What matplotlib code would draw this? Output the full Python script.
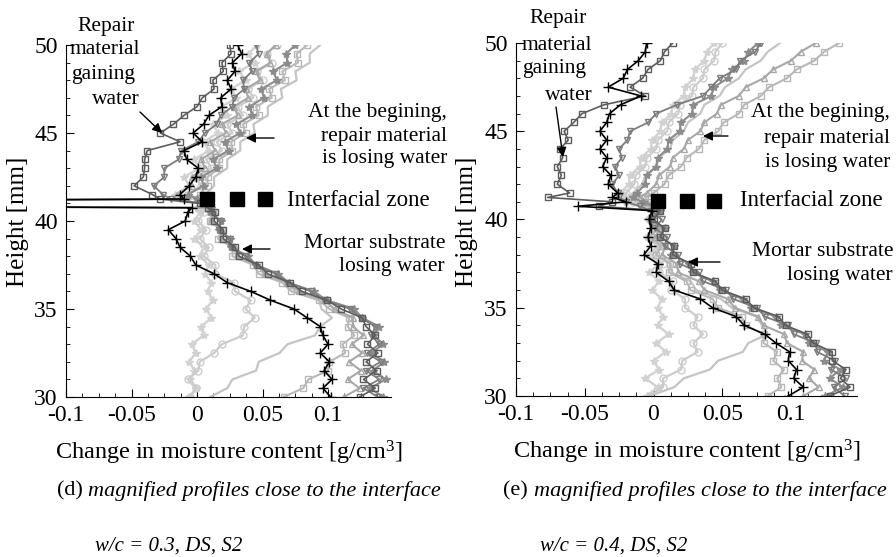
import matplotlib
matplotlib.use("Agg")
import matplotlib.pyplot as plt
from matplotlib.ticker import MultipleLocator, FixedLocator

plt.rcParams['font.family'] = ['Liberation Serif', 'DejaVu Serif']
plt.rcParams['mathtext.fontset'] = 'custom'
plt.rcParams['mathtext.rm'] = 'Liberation Serif'
plt.rcParams['mathtext.it'] = 'Liberation Serif:italic'

# ---------------- data ----------------
height = [30.0, 30.5, 31.0, 31.5, 32.0, 32.5, 33.0, 33.5, 34.0, 34.5, 35.0,
          35.5, 36.0, 36.5, 37.0, 37.5, 38.0, 38.5, 39.0, 39.5, 40.0, 40.5,
          40.75, 41.0, 41.25,
          41.5, 42.0, 42.5, 43.0, 43.5, 44.0, 44.5, 45.0, 45.5, 46.0, 46.5,
          47.0, 47.5, 48.0, 48.5, 49.0, 49.5, 50.0]

# (d) w/c = 0.3
d_black = [0.102, 0.096, 0.103, 0.097, 0.101, 0.094, 0.100, 0.096, 0.094, 0.084, 0.074,
           0.056, 0.041, 0.023, 0.013, -0.001, -0.005, -0.013, -0.016, -0.022, -0.009, -0.007,
           -0.004, -0.60, -0.010,
           -0.013, -0.006, -0.001, 0.001, -0.008, -0.010, 0.004, -0.003, 0.005, 0.009, 0.019,
           0.018, 0.026, 0.023, 0.029, 0.027, 0.034, 0.031]
d_sq_dark = [0.124, 0.136, 0.127, 0.137, 0.129, 0.138, 0.130, 0.136, 0.129, 0.126, 0.110,
             0.099, 0.080, 0.071, 0.054, 0.047, 0.032, 0.029, 0.020, 0.020, 0.013, 0.014,
             0.008, 0.002, -0.028,
             -0.034, -0.048, -0.041, -0.040, -0.040, -0.038, -0.013, -0.028, -0.018, -0.010, 0.000,
             0.004, 0.013, 0.012, 0.020, 0.019, 0.026, 0.025]
d_tri_down = [0.138, 0.127, 0.139, 0.129, 0.140, 0.130, 0.139, 0.133, 0.136, 0.125, 0.117,
              0.097, 0.087, 0.069, 0.060, 0.044, 0.037, 0.026, 0.025, 0.017, 0.018, 0.011,
              0.010, 0.004, -0.020,
              -0.026, -0.033, -0.025, -0.025, -0.014, -0.012, 0.001, 0.006, 0.015, 0.018, 0.027,
              0.028, 0.036, 0.035, 0.042, 0.040, 0.047, 0.045]
d_star_mid = [0.142, 0.132, 0.144, 0.134, 0.143, 0.133, 0.142, 0.135, 0.139, 0.126, 0.120,
              0.099, 0.089, 0.070, 0.062, 0.045, 0.039, 0.026, 0.025, 0.017, 0.018, 0.010,
              0.011, 0.006, 0.000,
              -0.007, 0.005, 0.003, 0.015, 0.012, 0.024, 0.021, 0.033, 0.030, 0.042, 0.040,
              0.051, 0.049, 0.061, 0.058, 0.069, 0.068, 0.075]
d_tri_up = [0.112, 0.124, 0.115, 0.125, 0.116, 0.126, 0.118, 0.127, 0.119, 0.119, 0.105,
            0.097, 0.078, 0.069, 0.052, 0.046, 0.031, 0.029, 0.018, 0.019, 0.011, 0.013,
            0.009, -0.60, -0.008,
            -0.015, -0.004, -0.004, 0.006, 0.003, 0.014, 0.010, 0.022, 0.019, 0.031, 0.028,
            0.039, 0.037, 0.048, 0.045, 0.056, 0.053, 0.060]
d_sq_light = [0.066, 0.081, 0.085, 0.100, 0.101, 0.113, 0.111, 0.120, 0.115, 0.116, 0.101,
              0.093, 0.072, 0.065, 0.047, 0.043, 0.027, 0.027, 0.016, 0.019, 0.010, 0.012,
              0.008, 0.004, 0.000,
              0.002, 0.008, 0.008, 0.017, 0.017, 0.027, 0.026, 0.037, 0.035, 0.047, 0.045,
              0.057, 0.055, 0.067, 0.065, 0.077, 0.076, 0.084]
d_line_light = [0.010, 0.023, 0.027, 0.045, 0.047, 0.063, 0.069, 0.090, 0.094, 0.103, 0.095,
                0.093, 0.075, 0.069, 0.051, 0.046, 0.030, 0.028, 0.017, 0.019, 0.009, 0.012,
                0.008, 0.005, 0.003,
                0.006, 0.013, 0.013, 0.023, 0.023, 0.033, 0.033, 0.044, 0.043, 0.054, 0.054,
                0.065, 0.064, 0.076, 0.075, 0.086, 0.086, 0.094]
d_circle = [-0.005, -0.001, -0.007, 0.001, 0.002, 0.013, 0.019, 0.035, 0.036, 0.044, 0.037,
            0.041, 0.029, 0.028, 0.014, 0.014, 0.005, 0.009, 0.002, 0.007, 0.001, 0.005,
            0.002, -0.60, -0.004,
            -0.008, 0.003, -0.001, 0.011, 0.007, 0.019, 0.015, 0.027, 0.023, 0.035, 0.031,
            0.043, 0.039, 0.050, 0.046, 0.057, 0.053, 0.061]
d_star_light = [-0.006, -0.001, -0.005, -0.002, -0.006, -0.001, -0.004, 0.005, 0.003, 0.011, 0.007,
                0.012, 0.008, 0.011, 0.006, 0.009, 0.002, 0.005, -0.002, 0.003, -0.002, 0.002,
                0.000, -0.60, -0.012,
                -0.017, -0.006, -0.010, 0.002, -0.002, 0.009, 0.005, 0.016, 0.012, 0.023, 0.019,
                0.030, 0.026, 0.037, 0.032, 0.044, 0.039, 0.046]

# (e) w/c = 0.4
e_black = [0.098, 0.109, 0.102, 0.104, 0.098, 0.099, 0.089, 0.081, 0.066, 0.060, 0.043,
           0.034, 0.015, 0.011, 0.002, 0.003, -0.007, -0.002, -0.004, -0.002, -0.003, -0.001,
           -0.055, -0.020, -0.030,
           -0.026, -0.033, -0.031, -0.037, -0.034, -0.039, -0.034, -0.039, -0.034, -0.032, -0.024,
           -0.009, -0.033, -0.022, -0.019, -0.011, -0.006, -0.005]
e_sq_dark = [0.128, 0.143, 0.136, 0.140, 0.130, 0.130, 0.116, 0.112, 0.096, 0.091, 0.073,
             0.067, 0.050, 0.045, 0.029, 0.027, 0.014, 0.015, 0.005, 0.008, 0.000, 0.005,
             -0.040, -0.030, -0.077,
             -0.061, -0.070, -0.067, -0.070, -0.066, -0.068, -0.062, -0.065, -0.058, -0.052, -0.036,
             -0.006, -0.017, -0.008, -0.004, 0.005, 0.008, 0.014]
e_tri_down = [0.139, 0.131, 0.140, 0.129, 0.132, 0.119, 0.118, 0.102, 0.098, 0.081, 0.075,
              0.058, 0.053, 0.036, 0.033, 0.019, 0.018, 0.008, 0.010, 0.001, 0.006, -0.002,
              -0.010, -0.020, -0.025,
              -0.026, -0.030, -0.025, -0.028, -0.023, -0.025, -0.019, -0.017, -0.004, 0.002, 0.017,
              0.036, 0.042, 0.048, 0.060, 0.063, 0.074, 0.078]
e_star_mid = [0.125, 0.138, 0.128, 0.136, 0.124, 0.127, 0.113, 0.110, 0.093, 0.089, 0.071,
              0.065, 0.048, 0.043, 0.028, 0.026, 0.013, 0.015, 0.005, 0.008, -0.001, 0.005,
              0.000, -0.008, -0.015,
              -0.012, -0.006, -0.005, 0.002, 0.003, 0.010, 0.011, 0.019, 0.020, 0.028, 0.029,
              0.042, 0.044, 0.054, 0.057, 0.066, 0.069, 0.076]
e_tri_up = [0.109, 0.120, 0.113, 0.117, 0.108, 0.109, 0.097, 0.095, 0.080, 0.076, 0.059,
            0.054, 0.037, 0.033, 0.018, 0.017, 0.006, 0.009, 0.001, 0.005, -0.001, 0.004,
            0.000, -0.005, -0.010,
            -0.005, 0.002, 0.004, 0.012, 0.014, 0.022, 0.025, 0.034, 0.037, 0.046, 0.049,
            0.062, 0.067, 0.080, 0.087, 0.100, 0.107, 0.118]
e_sq_light = [0.083, 0.093, 0.090, 0.095, 0.087, 0.090, 0.080, 0.080, 0.067, 0.064, 0.047,
              0.043, 0.027, 0.024, 0.011, 0.012, 0.002, 0.006, -0.002, 0.003, -0.002, 0.003,
              0.000, -0.004, -0.006,
              0.000, 0.008, 0.011, 0.020, 0.024, 0.033, 0.037, 0.047, 0.051, 0.062, 0.066,
              0.078, 0.084, 0.097, 0.104, 0.117, 0.124, 0.135]
e_line_light = [-0.003, 0.015, 0.022, 0.041, 0.047, 0.065, 0.069, 0.083, 0.079, 0.075, 0.057,
                0.049, 0.031, 0.027, 0.013, 0.013, 0.002, 0.005, -0.003, 0.002, -0.003, 0.004,
                -0.005, -0.012, -0.018,
                -0.015, -0.008, -0.006, 0.002, 0.004, 0.012, 0.014, 0.022, 0.025, 0.034, 0.037,
                0.048, 0.052, 0.062, 0.067, 0.078, 0.083, 0.092]
e_circle = [-0.003, 0.007, 0.007, 0.020, 0.021, 0.032, 0.029, 0.036, 0.029, 0.032, 0.023,
            0.023, 0.013, 0.014, 0.004, 0.007, -0.001, 0.004, -0.003, 0.002, -0.003, 0.003,
            -0.008, -0.015, -0.020,
            -0.020, -0.014, -0.013, -0.006, -0.005, 0.002, 0.003, 0.010, 0.011, 0.018, 0.019,
            0.028, 0.029, 0.036, 0.037, 0.044, 0.045, 0.050]
e_star_light = [-0.005, 0.003, -0.006, 0.004, 0.000, 0.009, 0.002, 0.011, 0.003, 0.007, 0.003,
                0.006, -0.001, 0.004, -0.003, 0.004, -0.004, 0.003, -0.005, 0.002, -0.003, 0.004,
                -0.010, -0.020, -0.024,
                -0.024, -0.018, -0.017, -0.010, -0.009, -0.002, -0.001, 0.005, 0.006, 0.013, 0.014,
                0.022, 0.023, 0.029, 0.030, 0.037, 0.039, 0.044]

# interfacial zone marker positions
d_iz_x = [0.0076, 0.0305, 0.0520]
d_iz_y = [41.27, 41.27, 41.27]
e_iz_x = [0.0035, 0.0240, 0.0440]
e_iz_y = [41.05, 41.05, 41.05]

# tick values
x_ticks = [-0.1, -0.05, 0.0, 0.05, 0.1]
x_ticklabels = ['-0.1', '-0.05', '0', '0.05', '0.1']
y_ticks = [30, 35, 40, 45, 50]

# ---------------- figure ----------------
W, H = 896, 557
fig = plt.figure(figsize=(W / 100, H / 100), dpi=100)


def fx(px):
    return px / W


def fy(py):
    return 1 - py / H


ax_d = fig.add_axes([fx(66), fy(397), fx(391) - fx(66), fy(45) - fy(397)])
ax_e = fig.add_axes([fx(516), fy(396), fx(857) - fx(516), fy(43) - fy(396)])

# colour, marker, marker size, fill, line width
styles = [
    ('#d2d2d2', '*', 6, 'full', 1.7),
    ('#cccccc', 'o', 5, 'none', 1.6),
    ('#c4c4c4', None, 0, 'none', 1.6),
    ('#b8b8b8', 's', 5, 'none', 1.5),
    ('#a8a8a8', '^', 5, 'none', 1.5),
    ('#8c8c8c', '*', 6, 'full', 1.5),
    ('#7c7c7c', 'v', 5, 'none', 1.3),
    ('#5c5c5c', 's', 5, 'none', 1.2),
    ('#000000', '+', 7, 'full', 1.2),
]

d_series = [d_star_light, d_circle, d_line_light, d_sq_light, d_tri_up,
            d_star_mid, d_tri_down, d_sq_dark, d_black]
e_series = [e_star_light, e_circle, e_line_light, e_sq_light, e_tri_up,
            e_star_mid, e_tri_down, e_sq_dark, e_black]

for ax, series, izx, izy in [(ax_d, d_series, d_iz_x, d_iz_y),
                             (ax_e, e_series, e_iz_x, e_iz_y)]:
    for vals, (col, mk, ms, fs, lw) in zip(series, styles):
        ax.plot(vals, height, color=col, lw=lw, marker=mk, ms=ms,
                fillstyle=fs, markeredgewidth=1.0)
    ax.plot(izx, izy, ls='none', marker='s', ms=9.5, color='k')
    ax.set_xlim(-0.1, 0.148)
    ax.set_ylim(30, 50)
    ax.spines['top'].set_visible(False)
    ax.spines['right'].set_visible(False)
    ax.spines['left'].set_linewidth(0.8)
    ax.spines['bottom'].set_linewidth(0.8)
    ax.xaxis.set_major_locator(FixedLocator(x_ticks))
    ax.set_xticklabels(x_ticklabels)
    ax.yaxis.set_major_locator(FixedLocator(y_ticks))
    ax.xaxis.set_minor_locator(MultipleLocator(0.0125))
    ax.yaxis.set_minor_locator(MultipleLocator(1))
    ax.tick_params(which='major', direction='in', length=6, width=0.8,
                   labelsize=17, pad=6)
    ax.tick_params(which='minor', direction='in', length=3, width=0.6)
    ax.set_xlabel('Change in moisture content [g/cm$^3$]', fontsize=17.5,
                  labelpad=9)
    ax.patch.set_alpha(0)

# y labels
fig.text(fx(18), fy(222), 'Height [mm]', rotation=90, fontsize=18,
         ha='center', va='center')
fig.text(fx(467), fy(222), 'Height [mm]', rotation=90, fontsize=18,
         ha='center', va='center')

ann_fs = 15.5
arrow_kw = dict(arrowstyle='-|>', color='k', lw=1.0, mutation_scale=14,
                shrinkA=0, shrinkB=0)


def ftext(px, py, s, ha='center', fs=ann_fs, **kw):
    fig.text(fx(px), fy(py), s, ha=ha, va='center', fontsize=fs, **kw)


def farrow(p0, p1):
    fig.add_artist(matplotlib.patches.FancyArrowPatch(
        (fx(p0[0]), fy(p0[1])), (fx(p1[0]), fy(p1[1])),
        transform=fig.transFigure, **arrow_kw))


# panel (d) annotations
ftext(106, 26, 'Repair')
ftext(105, 50, 'material')
ftext(103, 74, 'gaining')
ftext(140, 99, 'water', ha='right')
farrow((140, 112), (162, 133))
ftext(447, 113, 'At the begining,', ha='right')
ftext(447, 136, 'repair material', ha='right')
ftext(447, 159, 'is losing water', ha='right')
farrow((274, 138), (246, 138))
ftext(287, 201, 'Interfacial zone', ha='left', fs=16.5)
ftext(445, 243, 'Mortar substrate', ha='right')
ftext(445, 266, 'losing water', ha='right')
farrow((270, 249), (242, 249))

# panel (e) annotations
ftext(558, 19, 'Repair')
ftext(557, 45, 'material')
ftext(554, 69, 'gaining')
ftext(593, 95, 'water', ha='right')
farrow((556, 107), (563, 157))
ftext(890, 112, 'At the begining,', ha='right')
ftext(890, 138, 'repair material', ha='right')
ftext(890, 163, 'is losing water', ha='right')
farrow((728, 136), (703, 136))
ftext(740, 201, 'Interfacial zone', ha='left', fs=16.5)
ftext(893, 251, 'Mortar substrate', ha='right')
ftext(893, 276, 'losing water', ha='right')
farrow((720, 262), (688, 262))

# captions
ftext(57, 491, '(d)', ha='left', fs=16)
ftext(88, 491, 'magnified profiles close to the interface', ha='left', fs=16,
      style='italic')
ftext(95, 546, 'w/c = 0.3, DS, S2', ha='left', fs=15, style='italic')
ftext(503, 491, '(e)', ha='left', fs=16)
ftext(534, 491, 'magnified profiles close to the interface', ha='left', fs=16,
      style='italic')
ftext(540, 546, 'w/c = 0.4, DS, S2', ha='left', fs=15, style='italic')

fig.savefig('out.png', dpi=100)
